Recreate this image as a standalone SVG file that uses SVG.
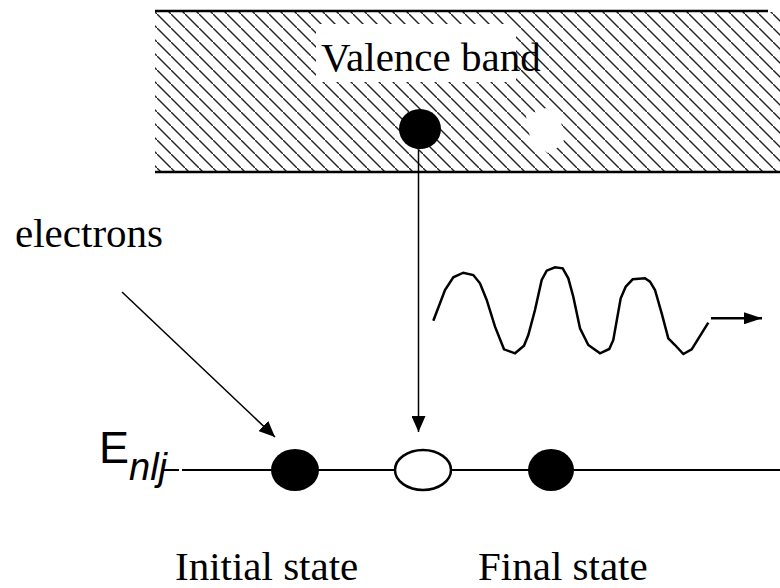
<svg xmlns="http://www.w3.org/2000/svg" width="780" height="588" viewBox="0 0 780 588">
<style>
.serif{font-family:"Liberation Serif","Times New Roman",serif;font-size:41px;fill:#000}
.sans{font-family:"Liberation Sans",Arial,sans-serif;fill:#000}
.thin{stroke:#000;stroke-width:1.5;fill:none}
.bold{stroke:#000;stroke-width:2.5;fill:none}
</style>
<defs>
<pattern id="hatch" x="3" y="0" width="14" height="14" patternUnits="userSpaceOnUse">
<line x1="-1" y1="-1" x2="15" y2="15" stroke="#222" stroke-width="1.4"/>
</pattern>
<marker id="arrBig" viewBox="0 0 18 12" refX="18" refY="6" markerWidth="18" markerHeight="12" markerUnits="userSpaceOnUse" orient="auto">
<path d="M0,0 L18,6 L0,12 Z" fill="#000"/>
</marker>
<marker id="arrMid" viewBox="0 0 16 14" refX="16" refY="7" markerWidth="16" markerHeight="14" markerUnits="userSpaceOnUse" orient="auto">
<path d="M0,0 L16,7 L0,14 Z" fill="#000"/>
</marker>
</defs>
<rect width="780" height="588" fill="#fff"/>

<g id="valence-band">
<rect x="155" y="12" width="625" height="159" fill="url(#hatch)"/>
<rect x="316" y="24" width="200" height="58" fill="#fff"/>
<path d="M526,116 L546,108 L561,120 L564,144 L548,153 L531,143 Z" fill="#fff"/>
<line x1="155" y1="11" x2="768" y2="11" stroke="#000" stroke-width="2.5"/>
<line x1="155" y1="172" x2="780" y2="172" stroke="#000" stroke-width="2.5"/>
<text class="serif" x="321" y="71">Valence band</text>
</g>

<g id="band-electron">
<ellipse cx="420" cy="129" rx="21" ry="20" fill="#000"/>
</g>

<g id="energy-level">
<line x1="163" y1="470" x2="179" y2="470" stroke="#000" stroke-width="2"/>
<line x1="182" y1="470" x2="780" y2="470" stroke="#000" stroke-width="2"/>
<text class="sans" x="99" y="463" font-size="45">E</text>
<text class="sans" x="129" y="480" font-size="38" font-style="italic">nlj</text>
</g>

<g id="initial-electron">
<ellipse cx="295" cy="470" rx="24" ry="21" fill="#000"/>
</g>
<g id="hole">
<ellipse cx="423" cy="470" rx="28" ry="20" fill="#fff" stroke="#000" stroke-width="2.5"/>
</g>
<g id="final-electron">
<ellipse cx="551" cy="470" rx="23" ry="21" fill="#000"/>
</g>

<g id="photon">
<path class="bold" d="M433.3,320.7 L445,290 L453.3,277.3 L463.3,272.7 L473.3,275 L480,283.3 L486.7,300 L495,326.7 L504,349.3 L515,353.3 L524,345.7 L528.3,335 L535,310 L541.7,280 L546.7,270.7 L555,267.3 L562.7,268.3 L568.3,278.3 L573.3,296.7 L580,328.3 L588.3,345 L600,353.3 L609.3,349 L613.3,340 L620.7,298.3 L625.7,286.7 L632.7,279.3 L645,278.3 L650,281.7 L655,290 L661.7,313.3 L668.3,338.3 L675,345 L683.3,354 L691.7,349.3 L708.3,322.7"/>
</g>

<g id="connectors">
<line class="thin" x1="418.5" y1="150" x2="418.5" y2="432" marker-end="url(#arrMid)"/>
<line class="thin" x1="122" y1="292" x2="275" y2="437" marker-end="url(#arrMid)"/>
<line class="bold" x1="711" y1="318.3" x2="762" y2="318.3" marker-end="url(#arrBig)"/>
</g>

<g id="labels">
<text class="serif" x="15" y="247">electrons</text>
<text class="serif" x="175" y="580">Initial state</text>
<text class="serif" x="478" y="580">Final state</text>
</g>
</svg>
